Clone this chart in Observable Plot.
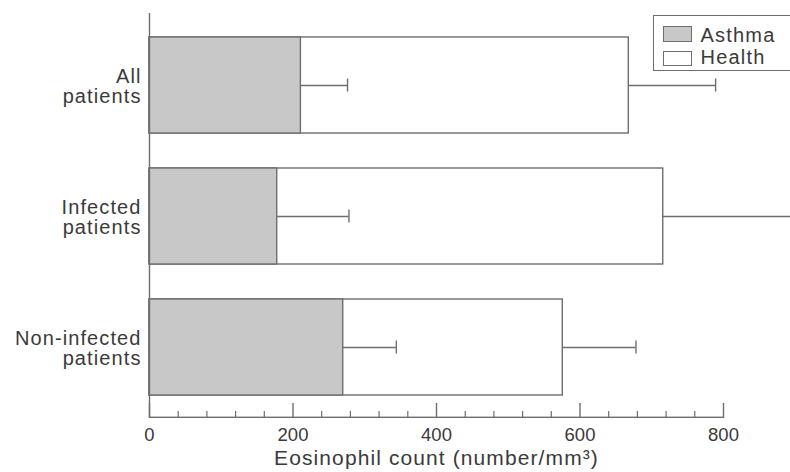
<!DOCTYPE html>
<html><head><meta charset="utf-8">
<script src="https://cdn.jsdelivr.net/npm/d3@7"></script>
<script src="https://cdn.jsdelivr.net/npm/@observablehq/plot@0.6"></script>
<style>
html,body{margin:0;padding:0;background:#fff;overflow:hidden;}
#wrap{position:relative;width:790px;height:472px;overflow:hidden;font-family:"Liberation Sans",Arial,sans-serif;color:#3a3a3a;}
#wrap svg g[aria-label="text"] text{letter-spacing:1.1px;}
.legend{position:absolute;left:653px;top:15px;width:170px;height:56px;border:1.5px solid #6e6e6e;box-sizing:border-box;background:#fff;}
.sw{position:absolute;left:8.5px;width:29px;box-sizing:border-box;border:1.3px solid #6e6e6e;}
.lt{position:absolute;left:46.5px;font-size:20px;line-height:20px;letter-spacing:1.2px;color:#3a3a3a;white-space:nowrap;}
</style></head>
<body>
<div id="wrap"></div>
<script>
const categories = ["All patients", "Infected patients", "Non-infected patients"];
const categoryLabels = ["All\npatients", "Infected\npatients", "Non-infected\npatients"];
const asthmaMean = [211, 178, 270];
const asthmaErr = [65, 100, 74];
const healthMean = [668, 716, 576];
const healthErr = [121, 184, 102];
const seriesNames = ["Asthma", "Health"];
const xTicks = [0, 200, 400, 600, 800];
const xMinorTicks = [40, 80, 120, 160, 240, 280, 320, 360, 440, 480, 520, 560, 640, 680, 720, 760];
const axisTitle = "Eosinophil count (number/mm³)";

const asthma = categories.map((c, i) => ({cat: c, v: asthmaMean[i], e: asthmaMean[i] + asthmaErr[i]}));
const health = categories.map((c, i) => ({cat: c, v: healthMean[i], e: healthMean[i] + healthErr[i]}));
const labelRows = categories.map((c, i) => ({cat: c, label: categoryLabels[i]}));

const lineColor = "#6e6e6e";
const textColor = "#3a3a3a";
const innerH = 472 - 13 - 54;

const chart = Plot.plot({
  width: 790, height: 472,
  marginLeft: 149, marginRight: 67, marginTop: 13, marginBottom: 54,
  style: {fontFamily: '"Liberation Sans", Arial, sans-serif', color: textColor, background: "#fff", overflow: "hidden"},
  x: {domain: [0, 800]},
  y: {domain: categories, paddingInner: 0.27, paddingOuter: 0.175, axis: null},
  marks: [
    Plot.barX(health, {y: "cat", x1: 0, x2: "v", fill: "#fff", stroke: lineColor, strokeWidth: 1.4}),
    Plot.barX(asthma, {y: "cat", x1: 0, x2: "v", fill: "#c8c8c8", stroke: lineColor, strokeWidth: 1.4}),
    Plot.ruleY(asthma, {y: "cat", x1: "v", x2: "e", stroke: lineColor, strokeWidth: 1.4}),
    Plot.tickX(asthma, {y: "cat", x: "e", stroke: lineColor, strokeWidth: 1.4, insetTop: 41.5, insetBottom: 41.5}),
    Plot.ruleY(health, {y: "cat", x1: "v", x2: "e", stroke: lineColor, strokeWidth: 1.4}),
    Plot.tickX(health, {y: "cat", x: "e", stroke: lineColor, strokeWidth: 1.4, insetTop: 41.5, insetBottom: 41.5}),
    Plot.ruleX([0], {stroke: lineColor, strokeWidth: 1.4}),
    Plot.rect([0], {x1: 0, x2: 800, fill: lineColor, insetTop: innerH - 1.4}),
    Plot.tickX(xTicks, {x: d => d, stroke: lineColor, strokeWidth: 1.4, insetTop: innerH - 15}),
    Plot.tickX(xMinorTicks, {x: d => d, stroke: lineColor, strokeWidth: 1.2, insetTop: innerH - 7}),
    Plot.axisX({ticks: xTicks, tickSize: 0, tickPadding: 9, fontSize: 18.5, label: null, fill: textColor}),
    Plot.text(labelRows, {y: "cat", text: "label", frameAnchor: "left", textAnchor: "end", dx: -8, dy: 1, fontSize: 20, lineHeight: 1.0, fill: textColor}),
    Plot.text([axisTitle], {frameAnchor: "bottom", dy: 46, fontSize: 21, fill: textColor})
  ]
});

const wrap = document.getElementById("wrap");
wrap.appendChild(chart);

const legend = document.createElement("div");
legend.className = "legend";
const swatchFills = ["#c8c8c8", "#fff"];
const swatchTops = [10, 35];
const swatchHeights = [15.7, 14.5];
const textTops = [8.7, 31.3];
seriesNames.forEach((name, i) => {
  const sw = document.createElement("div");
  sw.className = "sw";
  sw.style.top = swatchTops[i] + "px";
  sw.style.height = swatchHeights[i] + "px";
  sw.style.background = swatchFills[i];
  legend.appendChild(sw);
  const t = document.createElement("span");
  t.className = "lt";
  t.style.top = textTops[i] + "px";
  t.textContent = name;
  legend.appendChild(t);
});
wrap.appendChild(legend);
</script>
</body></html>
